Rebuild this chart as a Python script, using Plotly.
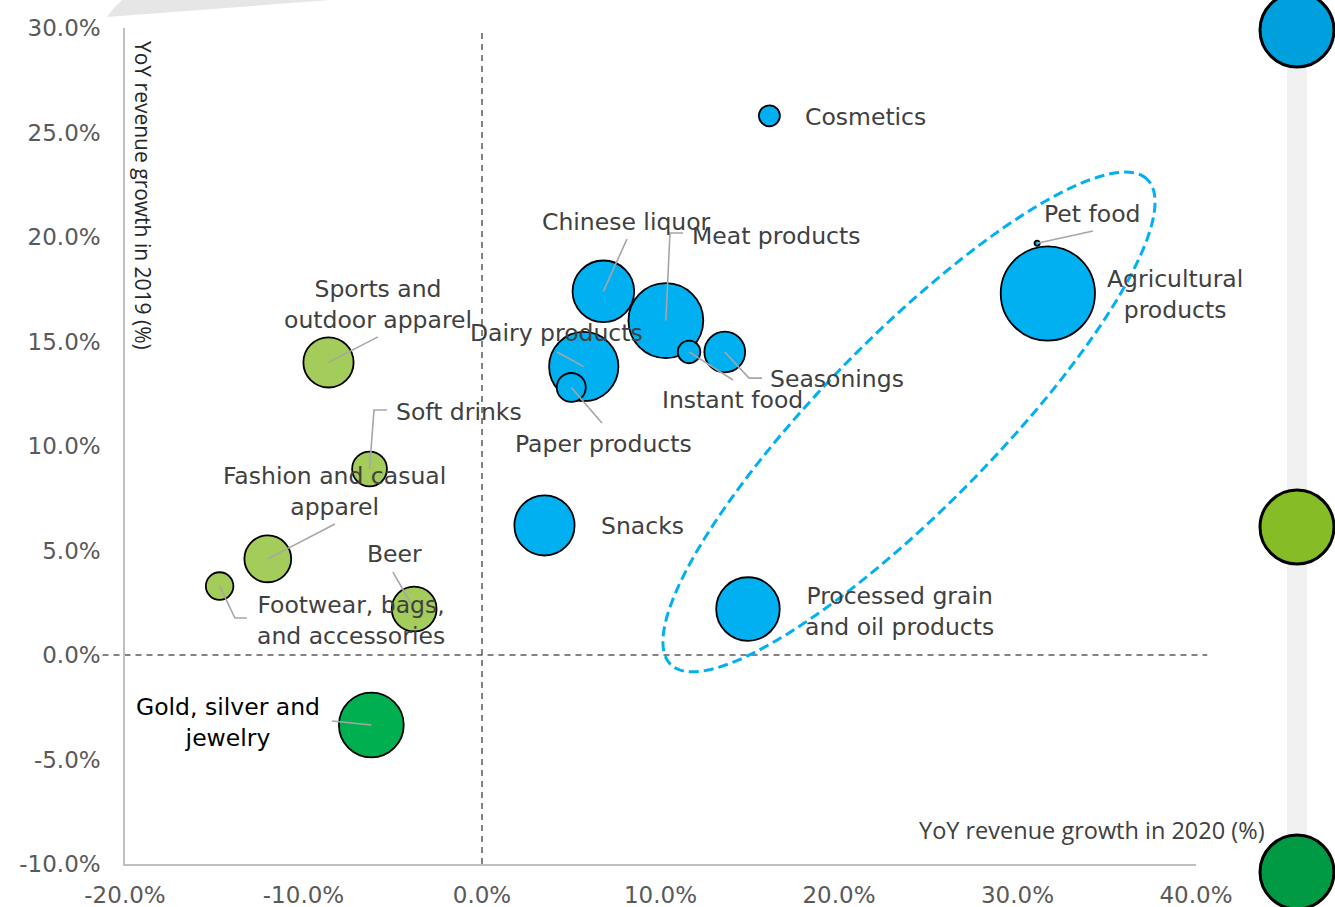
import numpy as np
import plotly.graph_objects as go

# ---------------------------------------------------------------- data
categories = [
    "Cosmetics", "Chinese liquor", "Meat products", "Dairy products",
    "Paper products", "Instant food", "Seasonings", "Snacks",
    "Processed grain and oil products", "Agricultural products", "Pet food",
    "Sports and outdoor apparel", "Soft drinks", "Fashion and casual apparel",
    "Footwear, bags, and accessories", "Beer", "Gold, silver and jewelry",
]
# YoY revenue growth, %
growth_2020 = [16.1, 6.8, 10.3, 5.7, 5.0, 11.6, 13.6, 3.5, 14.9, 31.7, 31.1,
               -8.6, -6.3, -12.0, -14.7, -3.8, -6.2]
growth_2019 = [25.8, 17.4, 16.0, 13.8, 12.8, 14.5, 14.5, 6.2, 2.2, 17.3, 19.7,
               14.0, 8.9, 4.6, 3.3, 2.2, -3.35]
# relative market size (bubble area)
bubble_size = [11, 95, 140, 120, 21, 12.8, 41.6, 90.6, 101, 222, 0.7,
               63, 30.3, 54.8, 19, 50.2, 105]
segment = ["FMCG"] * 11 + ["Apparel & beverages"] * 5 + ["Jewelry"]

x_ticks = [-20, -10, 0, 10, 20, 30, 40]
y_ticks = [-10, -5, 0, 5, 10, 15, 20, 25, 30]
x_tick_labels = [f"{v:.1f}%" for v in x_ticks]
y_tick_labels = [f"{v:.1f}%" for v in y_ticks]

# ---------------------------------------------------------------- styling
seg_colors = {"FMCG": "#00B0F0", "Apparel & beverages": "#A4CC5A",
              "Jewelry": "#00B050"}
LABEL_FONT = "DejaVu Sans, Verdana, sans-serif"
LABEL_COLOR = "#404040"
LEADER_COLOR = "#A6A6A6"

W, H = 1335, 907
ML, MR, MT, MB = 125, 139, 28, 43
X_RANGE, Y_RANGE = (-20, 40), (-10, 30)
PX_X = (W - ML - MR) / (X_RANGE[1] - X_RANGE[0])   # px per x unit
PX_Y = (H - MT - MB) / (Y_RANGE[1] - Y_RANGE[0])   # px per y unit

# label placement: text, anchor point, horizontal anchor, extra leader points
labels = {
    "Cosmetics": ("Cosmetics", (18.0, 25.75), "left", []),
    "Chinese liquor": ("Chinese liquor", (8.1, 20.7), "center", [(8.12, 19.9)]),
    "Meat products": ("Meat products", (11.65, 20.05), "left",
                      [(10.53, 20.19), (11.26, 20.19)]),
    "Dairy products": ("Dairy products", (4.2, 15.4), "center", [(4.2, 14.5)]),
    "Paper products": ("Paper products", (6.8, 10.1), "center", [(6.72, 11.1)]),
    "Instant food": ("Instant food", (14.05, 12.2), "center", [(14.06, 13.16)]),
    "Seasonings": ("Seasonings", (16.0, 13.2), "left",
                   [(14.96, 13.25), (15.69, 13.25)]),
    "Snacks": ("Snacks", (6.55, 6.17), "left", []),
    "Processed grain and oil products": ("Processed grain<br>and oil products",
                                         (23.4, 2.06), "center", []),
    "Agricultural products": ("Agricultural<br>products", (38.8, 17.27),
                              "center", []),
    "Pet food": ("Pet food", (34.2, 21.1), "center", [(34.23, 20.29)]),
    "Sports and outdoor apparel": ("Sports and<br>outdoor apparel",
                                   (-5.83, 16.75), "center", [(-5.83, 15.22)]),
    "Soft drinks": ("Soft drinks", (-4.93, 11.63), "left",
                    [(-6.05, 11.72), (-5.32, 11.72)]),
    "Fashion and casual apparel": ("Fashion and casual<br>apparel",
                                   (-8.24, 7.8), "center", [(-8.24, 6.27)]),
    "Footwear, bags, and accessories": ("Footwear, bags,<br>and accessories",
                                        (-7.34, 1.67), "center",
                                        [(-13.84, 1.77), (-13.17, 1.77)]),
    "Beer": ("Beer", (-4.93, 4.83), "center", [(-4.99, 3.97)]),
    "Gold, silver and jewelry": ("Gold, silver and<br>jewelry",
                                 (-14.23, -3.25), "center", [(-8.4, -3.16)]),
}

fig = go.Figure()

# bubbles
fig.add_trace(go.Scatter(
    x=growth_2020, y=growth_2019, mode="markers",
    text=categories, hoverinfo="text",
    marker=dict(size=bubble_size, sizemode="area", sizeref=0.05, sizemin=0,
                color=[seg_colors[s] for s in segment],
                line=dict(color="#000000", width=1.8), opacity=1),
    showlegend=False,
))

# leader lines from bubble centres to their labels
for cat, gx, gy in zip(categories, growth_2020, growth_2019):
    pts = labels[cat][3]
    if not pts:
        continue
    xs = [gx] + [p[0] for p in pts]
    ys = [gy] + [p[1] for p in pts]
    fig.add_trace(go.Scatter(x=xs, y=ys, mode="lines", hoverinfo="skip",
                             line=dict(color=LEADER_COLOR, width=1.6),
                             showlegend=False))

# category labels
annotations = []
for cat in categories:
    text, (lx, ly), anchor, _ = labels[cat]
    color = "#000000" if cat == "Gold, silver and jewelry" else LABEL_COLOR
    annotations.append(dict(
        x=lx, y=ly, xref="x", yref="y", text=text, showarrow=False,
        xanchor=anchor, yanchor="middle", align="center",
        font=dict(family=LABEL_FONT, size=23.5, color=color)))

# axis titles
annotations.append(dict(
    x=(1267 - ML) / (W - ML - MR), y=0.041, xref="paper", yref="paper",
    text="YoY revenue growth in 2020 (%)", showarrow=False,
    xanchor="right", yanchor="middle",
    font=dict(family="Open Sans, sans-serif", size=23.5, color="#404040")))
annotations.append(dict(
    x=0.017, y=0.80, xref="paper", yref="paper", textangle=90,
    text="YoY revenue growth in 2019 (%)", showarrow=False,
    xanchor="center", yanchor="middle",
    font=dict(family="Open Sans, sans-serif", size=21, color="#262626")))

shapes = []
# quadrant guides
shapes.append(dict(type="line", xref="x", yref="y", x0=0, x1=0,
                   y0=Y_RANGE[0], y1=Y_RANGE[1], layer="below",
                   line=dict(color="#595959", width=1.5, dash="6px,5px")))
shapes.append(dict(type="line", xref="paper", yref="y", x0=-0.021, x1=1.0105,
                   y0=0, y1=0, layer="below",
                   line=dict(color="#595959", width=1.5, dash="6px,5px")))

# highlight ellipse around the high-growth food group
cx, cy = 23.92, 11.15          # centre, data units
a_px, b_px, ang = 340, 86, np.deg2rad(45.5)
t = np.linspace(0, 2 * np.pi, 240)
u = a_px * np.cos(t)
v = b_px * np.sin(t)
px = u * np.cos(ang) - v * np.sin(ang)
py = u * np.sin(ang) + v * np.cos(ang)
ex = cx + px / PX_X
ey = cy + py / PX_Y
path = "M " + " L ".join(f"{a:.4f},{b:.4f}" for a, b in zip(ex, ey)) + " Z"
shapes.append(dict(type="path", xref="x", yref="y", path=path, layer="above",
                   line=dict(color="#00B0F0", width=3, dash="10px,5px")))

# decorative strip and segment dots at the right edge
def px_x(p):
    return (p - ML) / (W - ML - MR)

def px_y(p):
    return (H - MB - p) / (H - MT - MB)

shapes.append(dict(type="rect", xref="paper", yref="paper",
                   x0=px_x(1287), x1=px_x(1307), y0=px_y(920), y1=px_y(65),
                   fillcolor="#F0F0F0", line=dict(width=0), layer="below"))
for yc, col in [(30, "#00A0DE"), (527, "#86BC25"), (872, "#009A44")]:
    shapes.append(dict(type="circle", xref="paper", yref="paper",
                       xsizemode="pixel", ysizemode="pixel",
                       xanchor=px_x(1297), yanchor=px_y(yc),
                       x0=-37, x1=37, y0=-37, y1=37,
                       fillcolor=col, line=dict(color="#000000", width=3)))
# grey tab at top-left
tab = [(107, 17), (113, 9), (119, 3), (124, -2), (330, -2), (330, 0)]
tab_path = "M " + " L ".join(f"{px_x(a):.4f},{px_y(b):.4f}" for a, b in tab) + " Z"
shapes.append(dict(type="path", xref="paper", yref="paper", path=tab_path,
                   fillcolor="#E6E6E6", line=dict(width=0)))

fig.update_layout(
    width=W, height=H,
    margin=dict(l=ML, r=MR, t=MT, b=MB, pad=0),
    paper_bgcolor="white", plot_bgcolor="white",
    annotations=annotations, shapes=shapes,
    xaxis=dict(range=list(X_RANGE), tickvals=x_ticks, ticktext=x_tick_labels,
               showgrid=False, zeroline=False, showline=True,
               linecolor="#BFBFBF", linewidth=1.5, ticks="",
               ticklabelstandoff=10, automargin=False,
               tickfont=dict(family=LABEL_FONT, size=23, color="#595959")),
    yaxis=dict(range=list(Y_RANGE), tickvals=y_ticks, ticktext=y_tick_labels,
               showgrid=False, zeroline=False, showline=True,
               linecolor="#BFBFBF", linewidth=1.5, ticks="",
               ticklabelstandoff=18, automargin=False,
               tickfont=dict(family=LABEL_FONT, size=23, color="#595959")),
)

fig.write_html("out.html")
